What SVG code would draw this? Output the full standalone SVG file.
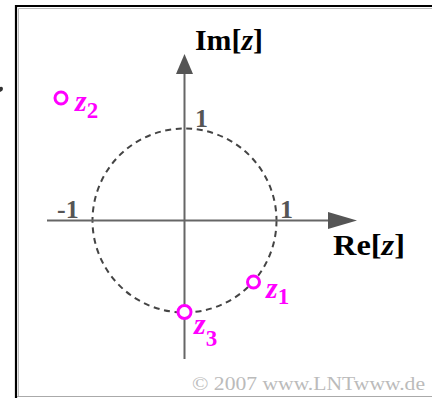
<svg xmlns="http://www.w3.org/2000/svg" width="432" height="398" viewBox="0 0 432 398">
<style>
.axis{stroke:#666;stroke-width:2;fill:none}
.head{fill:#555;stroke:none}
.unit{fill:none;stroke:#444;stroke-width:2;stroke-dasharray:6 4.6}
.pt{fill:#fff;stroke:#ff00ff;stroke-width:3}
.zl{font-family:"Liberation Serif",serif;font-weight:bold;font-style:italic;fill:#ff00ff;font-size:30px}
.sub{font-size:23px;font-style:normal}
.ax{font-family:"Liberation Serif",serif;font-weight:bold;fill:#000;font-size:29px}
.num{font-family:"Liberation Serif",serif;font-weight:bold;fill:#555;font-size:26px}
.copy{font-family:"Liberation Serif",serif;fill:#bbb;font-size:19px}
</style>
<rect width="432" height="398" fill="#fff"/>
<g id="frame">
<path d="M16,398 V6 H432" fill="none" stroke="#000" stroke-width="2.2"/>
<path d="M18.5,397 V8.5 H432" fill="none" stroke="#bbb" stroke-width="1"/>
<path d="M17,396.5 H432" fill="none" stroke="#aaa" stroke-width="1.2"/>
<path d="M0,87 Q3,86 3,89 Q3,91 0,92 Z" fill="#333"/>
</g>
<g id="connectors">
<circle id="unit-circle" class="unit" cx="184.5" cy="220.5" r="92"/>
<line class="axis" x1="184.5" y1="359" x2="184.5" y2="72"/>
<polygon class="head" points="184.5,54 176,74 193,74"/>
<line class="axis" x1="47" y1="220.5" x2="330" y2="220.5"/>
<polygon class="head" points="357,220.5 328,212 328,229"/>
</g>
<g id="axis-labels">
<text class="ax" x="195" y="50" textLength="68" lengthAdjust="spacingAndGlyphs">Im[<tspan font-style="italic">z</tspan>]</text>
<text class="ax" x="333" y="255" textLength="72" lengthAdjust="spacingAndGlyphs">Re[<tspan font-style="italic">z</tspan>]</text>
<text class="num" x="195" y="127">1</text>
<text class="num" x="57" y="218">-1</text>
<text class="num" x="280" y="218">1</text>
</g>
<g id="z1">
<circle class="pt" cx="253.5" cy="282" r="6"/>
<text class="zl" x="266" y="298">z<tspan class="sub" dy="6">1</tspan></text>
</g>
<g id="z2">
<circle class="pt" cx="61" cy="98" r="6"/>
<text class="zl" x="75" y="111">z<tspan class="sub" dy="7">2</tspan></text>
</g>
<g id="z3">
<circle class="pt" cx="184.5" cy="312" r="6.5"/>
<text class="zl" x="194" y="334">z<tspan class="sub" dy="12">3</tspan></text>
</g>
<text class="copy" x="192" y="390" textLength="233" lengthAdjust="spacingAndGlyphs">© 2007 www.LNTwww.de</text>
</svg>
